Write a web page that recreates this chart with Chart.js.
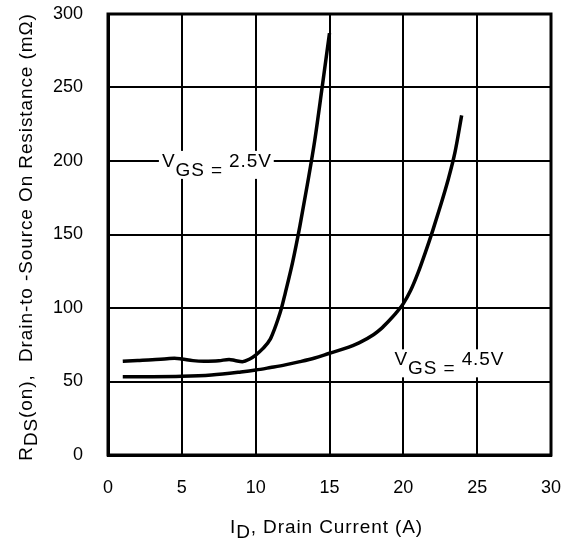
<!DOCTYPE html>
<html>
<head>
<meta charset="utf-8">
<script src="https://cdn.jsdelivr.net/npm/chart.js@4.4.0/dist/chart.umd.min.js"></script>
<style>
  body { margin: 0; background: #fff; }
  canvas { display: block; }
</style>
</head>
<body>
<canvas id="rdsChart" width="572" height="542"></canvas>
<script>
// Values: drain current (A) vs on-resistance (mOhm)
const currentLow = [1, 2, 3, 4, 4.5, 5, 5.75, 6.5, 7.5, 8.2, 8.6, 9.1, 9.6, 10, 10.5, 11, 11.25, 11.5, 11.75, 12, 12.5, 13, 13.5, 14, 14.5, 15];
const rdsLow = [63.8, 64.3, 64.8, 65.5, 65.8, 65.3, 64.2, 63.8, 64.1, 65, 64.3, 63.5, 65.3, 68, 72.5, 79, 85, 92, 100, 110, 131, 156, 184, 214, 250, 287];

const currentHigh = [1, 3, 5, 7, 9, 10, 11, 12, 13, 14, 15, 16, 17, 18, 18.5, 19, 19.5, 20, 20.5, 21, 21.5, 22, 22.5, 23, 23.5, 23.95];
const rdsHigh = [53.3, 53.3, 53.5, 54.4, 56.5, 57.8, 59.5, 61.3, 63.5, 66, 69.2, 72.3, 76.3, 82, 86, 91, 96.5, 103, 112, 124, 138, 153, 169, 186, 206, 231];

const xTicks = [0, 5, 10, 15, 20, 25, 30];
const yTicks = [0, 50, 100, 150, 200, 250, 300];

const FONT = "'Liberation Sans', Arial, Helvetica, sans-serif";
const SPACING = 0.9; // the datasheet lettering is a bit wider than Arial

// where the curve labels sit, in data units (left edge / baseline)
const lowLabelAt = { x: 3.65, y: 196 };
const highLabelAt = { x: 19.4, y: 61 };

function toPoints(xs, ys) {
  return xs.map((x, i) => ({ x: x, y: ys[i] }));
}

function textWidth(ctx, s) {
  let w = 0;
  for (const ch of s) w += ctx.measureText(ch).width + SPACING;
  return w;
}

function partsWidth(ctx, parts) {
  return parts.reduce((w, p) => w + textWidth(ctx, p.text), 0);
}

// draw text pieces one after another, dy shifts a piece down (subscript)
function drawParts(ctx, x, y, parts) {
  let cx = x;
  parts.forEach(p => {
    for (const ch of p.text) {
      ctx.fillText(ch, cx, y + (p.dy || 0));
      cx += ctx.measureText(ch).width + SPACING;
    }
  });
}

function vgsParts(volts) {
  return [
    { text: "V" },
    { text: "GS = ", dy: 9 },
    { text: volts }
  ];
}

const extras = {
  id: "extras",
  beforeDatasetsDraw(chart) {
    const ctx = chart.ctx;
    const a = chart.chartArea;
    const xs = chart.scales.x;
    const ys = chart.scales.y;

    ctx.save();
    // frame round the plot
    ctx.strokeStyle = "#000";
    ctx.lineWidth = 3;
    ctx.strokeRect(a.left, a.top, a.right - a.left, a.bottom - a.top);

    // curve labels with white backing over the grid
    ctx.font = "19px " + FONT;
    ctx.textBaseline = "alphabetic";
    ctx.textAlign = "left";
    [[lowLabelAt, "2.5V"], [highLabelAt, "4.5V"]].forEach(([at, volts]) => {
      const parts = vgsParts(volts);
      const px = xs.getPixelForValue(at.x);
      const py = ys.getPixelForValue(at.y);
      const w = partsWidth(ctx, parts);
      ctx.fillStyle = "#fff";
      ctx.fillRect(px - 3, py - 16, w + 5, 28);
      ctx.fillStyle = "#000";
      drawParts(ctx, px, py, parts);
    });
    ctx.restore();
  },
  afterDraw(chart) {
    const ctx = chart.ctx;
    const a = chart.chartArea;
    ctx.save();
    ctx.fillStyle = "#000";
    ctx.font = "19px " + FONT;
    ctx.textAlign = "left";
    ctx.textBaseline = "alphabetic";

    // x axis title
    const xParts = [
      { text: "I" },
      { text: "D", dy: 5 },
      { text: ", Drain Current (A)" }
    ];
    const xw = partsWidth(ctx, xParts);
    drawParts(ctx, (a.left + a.right) / 2 - xw / 2 - 3, 533, xParts);

    // y axis title, rotated
    const yParts = [
      { text: "R" },
      { text: "DS", dy: 5 },
      { text: "(on),  Drain-to -Source On Resistance (m\u03A9)" }
    ];
    const yw = partsWidth(ctx, yParts);
    ctx.translate(31.5, (a.top + a.bottom) / 2 + 2.5);
    ctx.rotate(-Math.PI / 2);
    drawParts(ctx, -yw / 2, 0, yParts);
    ctx.restore();
  }
};

function noPadding(s) {
  s.paddingTop = 0;
  s.paddingBottom = 0;
  s.paddingLeft = 0;
  s.paddingRight = 0;
}

const ctx = document.getElementById("rdsChart").getContext("2d");
new Chart(ctx, {
  type: "line",
  data: {
    datasets: [
      {
        label: "VGS = 2.5V",
        data: toPoints(currentLow, rdsLow),
        borderColor: "#000",
        borderWidth: 3.5,
        pointRadius: 0,
        cubicInterpolationMode: "monotone",
        fill: false,
      },
      {
        label: "VGS = 4.5V",
        data: toPoints(currentHigh, rdsHigh),
        borderColor: "#000",
        borderWidth: 3.5,
        pointRadius: 0,
        cubicInterpolationMode: "monotone",
        fill: false,
      },
    ],
  },
  options: {
    responsive: false,
    animation: false,
    layout: { padding: { top: 14, right: 21, left: 0, bottom: 0 } },
    plugins: {
      legend: { display: false },
      tooltip: { enabled: false },
    },
    scales: {
      x: {
        type: "linear",
        min: 0,
        max: 30,
        afterBuildTicks: (s) => { s.ticks = xTicks.map(v => ({ value: v })); },
        afterFit: (s) => { s.height = 87; noPadding(s); },
        ticks: { color: "#000", font: { size: 18, family: FONT }, padding: 22, maxRotation: 0 },
        grid: { color: "#000", lineWidth: 2, drawTicks: false },
        border: { color: "#000", width: 3 },
      },
      y: {
        min: 0,
        max: 300,
        afterBuildTicks: (s) => { s.ticks = yTicks.map(v => ({ value: v })); },
        afterFit: (s) => { s.width = 108; noPadding(s); },
        ticks: { color: "#000", font: { size: 18, family: FONT }, padding: 25 },
        grid: { color: "#000", lineWidth: 2, drawTicks: false },
        border: { color: "#000", width: 3 },
      },
    },
  },
  plugins: [extras],
});
</script>
</body>
</html>
